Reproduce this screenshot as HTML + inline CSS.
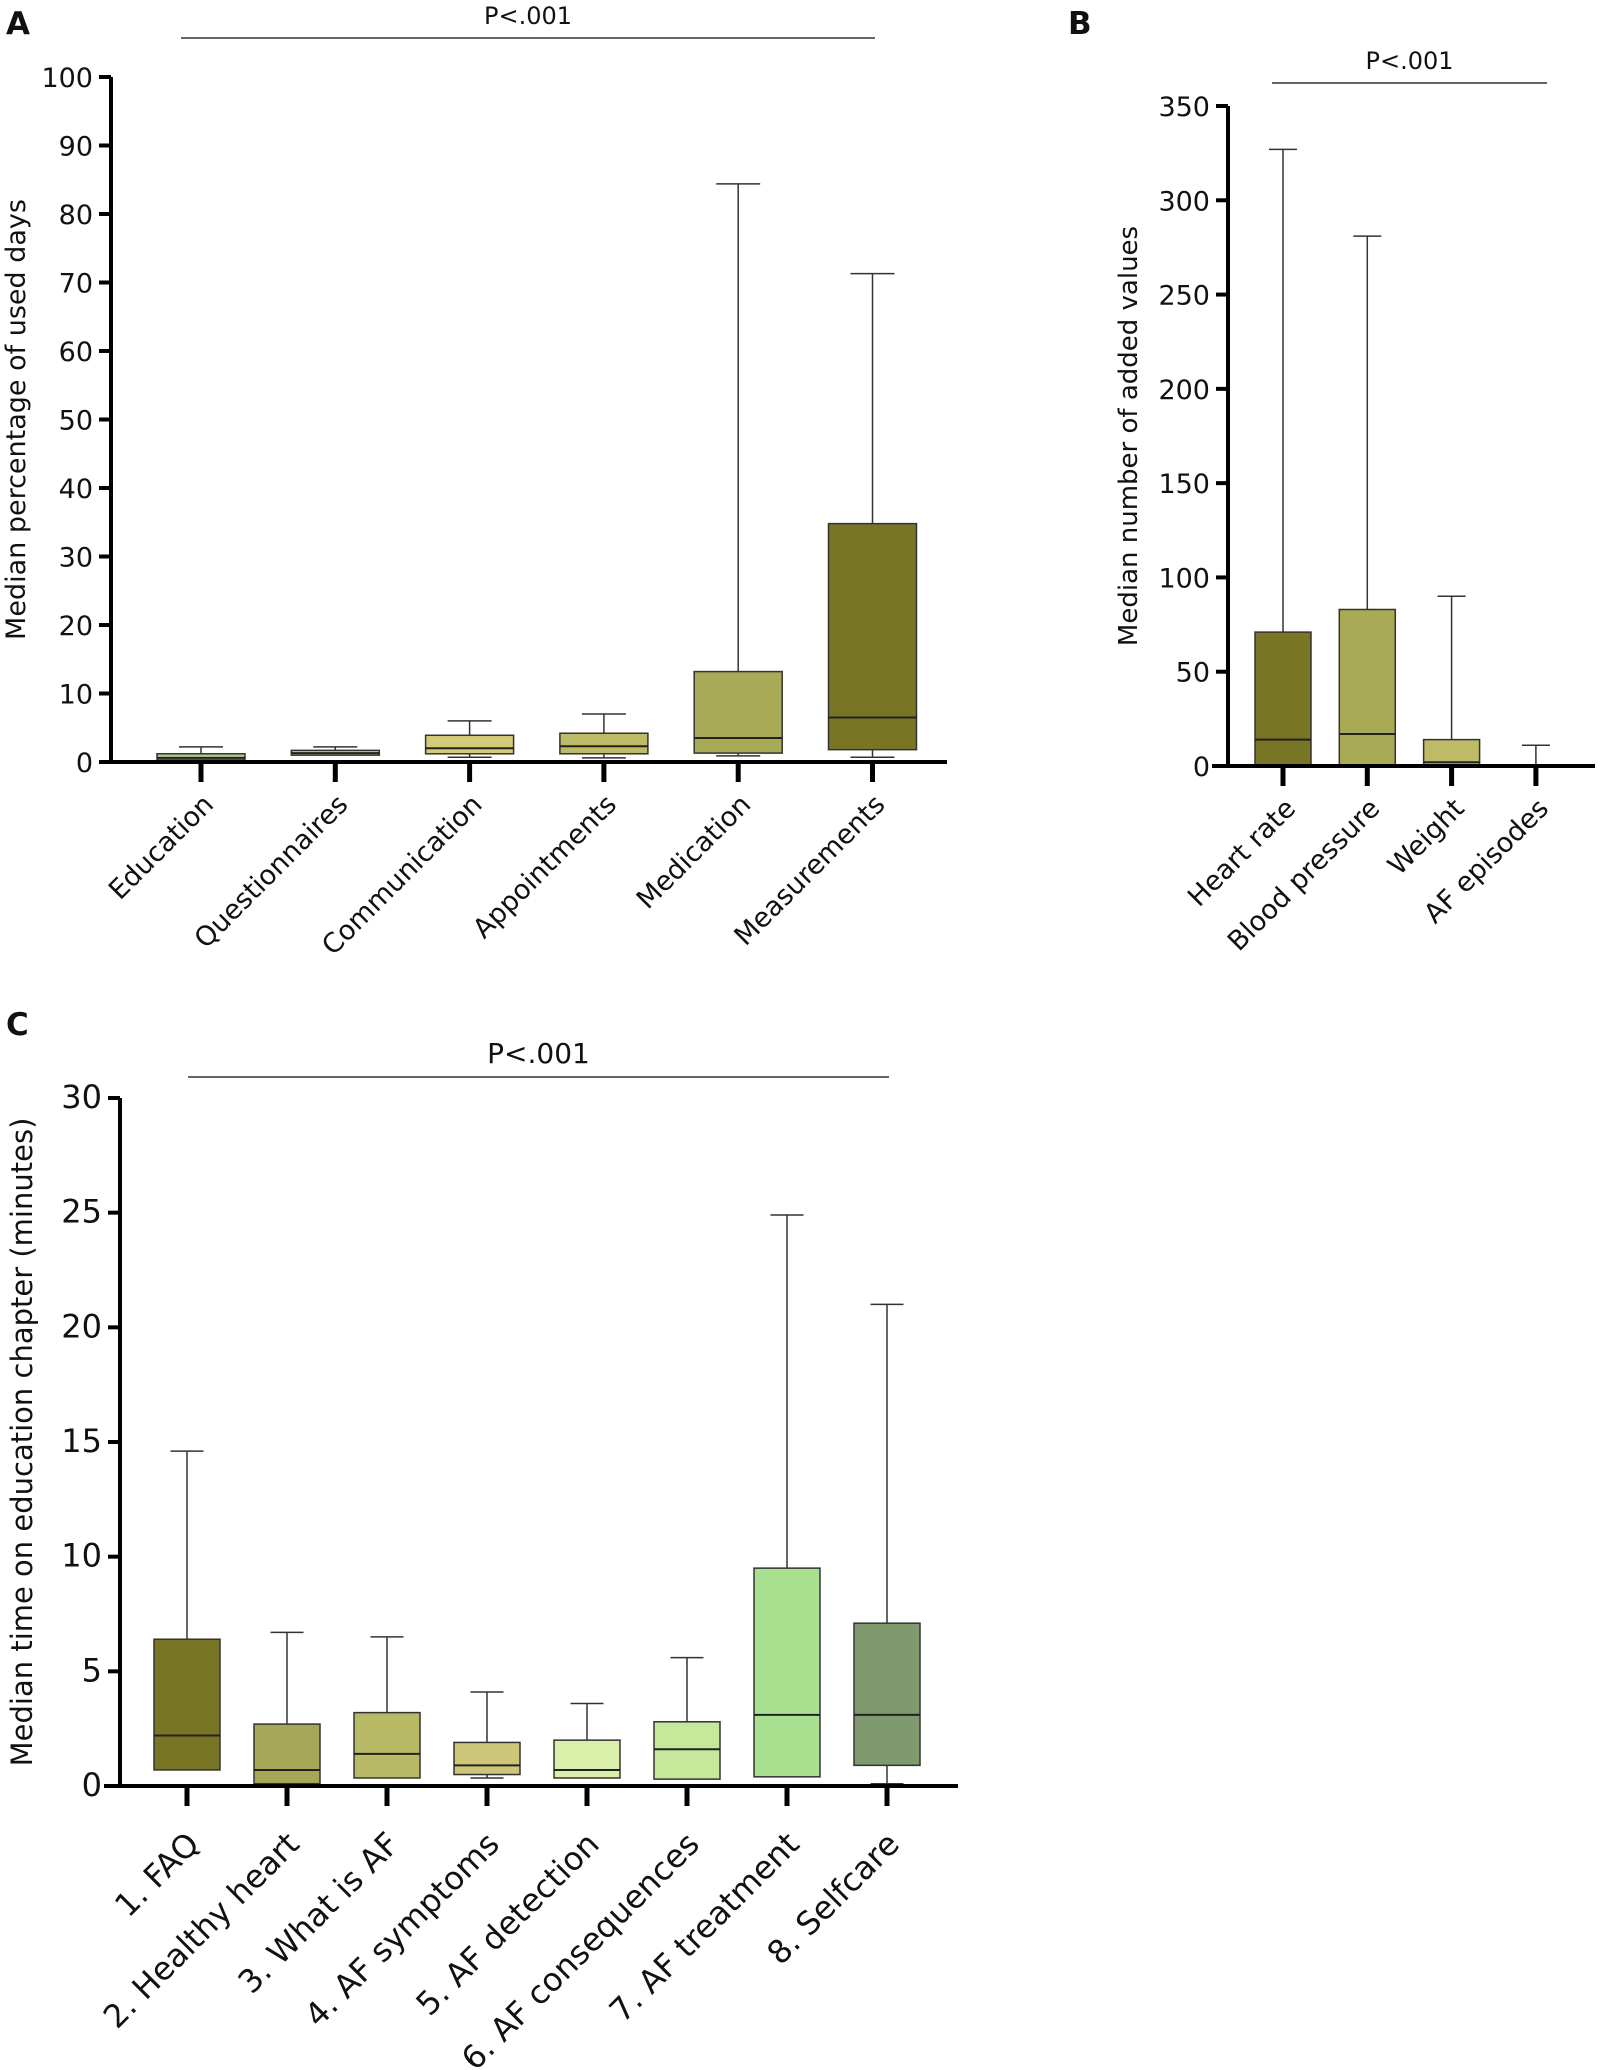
<!DOCTYPE html>
<html><head><meta charset="utf-8"><style>
html,body{margin:0;padding:0;background:#fff;}
svg{display:block;}
text{font-family:"DejaVu Sans","Liberation Sans",sans-serif;fill:#111;}
</style></head><body>
<svg id="fig" width="1605" height="2070" viewBox="0 0 1605 2070" xmlns="http://www.w3.org/2000/svg">
<text x="6" y="34" font-size="31" font-weight="bold" font-family="Liberation Sans">A</text>
<text x="1068" y="34" font-size="31" font-weight="bold" font-family="Liberation Sans">B</text>
<text x="6" y="1035" font-size="31" font-weight="bold" font-family="Liberation Sans">C</text>
<g id="pa"></g>
<g id="pb"></g>
<g id="pc"></g>
</svg>
<script>
// Panel A data
const catsA = ["Education","Questionnaires","Communication","Appointments","Medication","Measurements"];
const minA = [0, 1.0, 0.7, 0.6, 0.9, 0.7];
const q1A = [0.3, 1.0, 1.2, 1.2, 1.3, 1.8];
const medA = [0.6, 1.3, 2.0, 2.3, 3.5, 6.5];
const q3A = [1.2, 1.7, 3.9, 4.2, 13.2, 34.8];
const maxA = [2.2, 2.2, 6.0, 7.0, 84.4, 71.3];
const colA = ["#a9d18e","#c8c57c","#d4cb76","#bdbb66","#a8aa56","#787624"];
const ticksA = [0,10,20,30,40,50,60,70,80,90,100];
// Panel B data
const catsB = ["Heart rate","Blood pressure","Weight","AF episodes"];
const minB = [0, 0, 0, 0];
const q1B = [0, 0, 0, 0];
const medB = [14, 17, 2, 0];
const q3B = [71, 83, 14, 0];
const maxB = [327, 281, 90, 11];
const colB = ["#787624","#a8aa56","#bdbb66","#bdbb66"];
const ticksB = [0,50,100,150,200,250,300,350];
// Panel C data
const catsC = ["1. FAQ","2. Healthy heart","3. What is AF","4. AF symptoms","5. AF detection","6. AF consequences","7. AF treatment","8. Selfcare"];
const minC = [0.7, 0.1, 0.35, 0.35, 0.35, 0.3, 0.4, 0.1];
const q1C = [0.7, 0.1, 0.35, 0.5, 0.35, 0.3, 0.4, 0.9];
const medC = [2.2, 0.7, 1.4, 0.9, 0.7, 1.6, 3.1, 3.1];
const q3C = [6.4, 2.7, 3.2, 1.9, 2.0, 2.8, 9.5, 7.1];
const maxC = [14.6, 6.7, 6.5, 4.1, 3.6, 5.6, 24.9, 21.0];
const colC = ["#787624","#a6a857","#b9ba66","#cdc679","#d9efaa","#c5e89a","#a9e08f","#7e9a6e"];
const ticksC = [0,5,10,15,20,25,30];

const NS="http://www.w3.org/2000/svg";
function mk(parent,tag,attrs){const e=document.createElementNS(NS,tag);for(const k in attrs)e.setAttribute(k,attrs[k]);parent.appendChild(e);return e;}

function panel(gid,cfg){
  const g=document.getElementById(gid);
  const y=v=>cfg.y0-(v-cfg.ymin)/(cfg.ymax-cfg.ymin)*(cfg.y0-cfg.yTop);
  const x=i=>cfg.x0+i*cfg.step;
  let l=mk(g,'line',{x1:cfg.ax,y1:cfg.yTop,x2:cfg.ax,y2:cfg.y0,stroke:'#000','stroke-width':4});
  
  
  cfg.ticks.forEach(t=>{
    const tl=mk(g,'line',{x1:cfg.ax-12,y1:y(t),x2:cfg.ax,y2:y(t),stroke:'#000','stroke-width':4});
    
    
    const tx=mk(g,'text',{x:cfg.ax-18,y:y(t)+10,'text-anchor':'end','font-size':cfg.fs});
    tx.textContent=t;
    
    
  });
  const yt=mk(g,'text',{x:0,y:0,'text-anchor':'middle','font-size':cfg.tfs,transform:`translate(${cfg.titleX},${(cfg.yTop+cfg.y0)/2}) rotate(-90)`});
  yt.textContent=cfg.title;
  
  
  cfg.cats.forEach((c,i)=>{
    const cx=x(i),hw=cfg.bw/2,cw=cfg.bw/4;
    const w1=mk(g,'line',{x1:cx,y1:y(cfg.max[i]),x2:cx,y2:y(cfg.q3[i]),stroke:'#333','stroke-width':1.5});
    
    
    const c1=mk(g,'line',{x1:cx-cw,y1:y(cfg.max[i]),x2:cx+cw,y2:y(cfg.max[i]),stroke:'#333','stroke-width':1.5});
    
    
    if(cfg.min[i]<cfg.q1[i]){
      const w2=mk(g,'line',{x1:cx,y1:y(cfg.q1[i]),x2:cx,y2:y(cfg.min[i]),stroke:'#333','stroke-width':1.5});
      
      
      const c2=mk(g,'line',{x1:cx-cw,y1:y(cfg.min[i]),x2:cx+cw,y2:y(cfg.min[i]),stroke:'#333','stroke-width':1.5});
      
      
    }
    const h=Math.max(y(cfg.q1[i])-y(cfg.q3[i]),0);
    if(h>0){
      const r=mk(g,'rect',{x:cx-hw,y:y(cfg.q3[i]),width:cfg.bw,height:h,fill:cfg.col[i],stroke:'#333','stroke-width':1.5});
      
      
    }
    const m=mk(g,'line',{x1:cx-hw,y1:y(cfg.med[i]),x2:cx+hw,y2:y(cfg.med[i]),stroke:'#222','stroke-width':2});
    
    
    const tk=mk(g,'line',{x1:cx,y1:cfg.y0,x2:cx,y2:cfg.y0+20,stroke:'#000','stroke-width':5});
    
    
    const lb=mk(g,'text',{x:0,y:0,'text-anchor':'end','font-size':cfg.lfs,transform:`translate(${cx+14},${cfg.y0+cfg.lOff}) rotate(-45)`});
    lb.textContent=c;
    
    
  });
  const xa=mk(g,'line',{x1:cfg.xaStart,y1:cfg.y0,x2:cfg.xaEnd,y2:cfg.y0,stroke:'#000','stroke-width':4});
  
  
  const pl=mk(g,'line',{x1:cfg.p[0],y1:cfg.p[2],x2:cfg.p[1],y2:cfg.p[2],stroke:'#333','stroke-width':1.5});
  
  
  const pt=mk(g,'text',{x:(cfg.p[0]+cfg.p[1])/2,y:cfg.p[2]-14,'text-anchor':'middle','font-size':cfg.pfs});
  pt.textContent='P<.001';
  
  
}

panel('pa',{cats:catsA,min:minA,q1:q1A,med:medA,q3:q3A,max:maxA,col:colA,ticks:ticksA,
  ymin:0,ymax:100,y0:762,yTop:77,ax:111,x0:201,step:134.3,bw:88,fs:27,lfs:27,lOff:44,tfs:27,pfs:24,
  title:'Median percentage of used days',titleX:25,xaStart:104,xaEnd:947,p:[181,875,38]});
panel('pb',{cats:catsB,min:minB,q1:q1B,med:medB,q3:q3B,max:maxB,col:colB,ticks:ticksB,
  ymin:0,ymax:350,y0:766,yTop:106,ax:1228,x0:1283,step:84.3,bw:56,fs:27,lfs:27,lOff:44,tfs:26,pfs:24,
  title:'Median number of added values',titleX:1137,xaStart:1212,xaEnd:1595,p:[1272,1547,83]});
panel('pc',{cats:catsC,min:minC,q1:q1C,med:medC,q3:q3C,max:maxC,col:colC,ticks:ticksC,
  ymin:0,ymax:30,y0:1786,yTop:1098,ax:120,x0:187,step:100,bw:66,fs:32,lfs:32,lOff:60,tfs:29,pfs:28,
  title:'Median time on education chapter (minutes)',titleX:32,xaStart:104,xaEnd:958,p:[188,889,1077]});
</script>
</body></html>
